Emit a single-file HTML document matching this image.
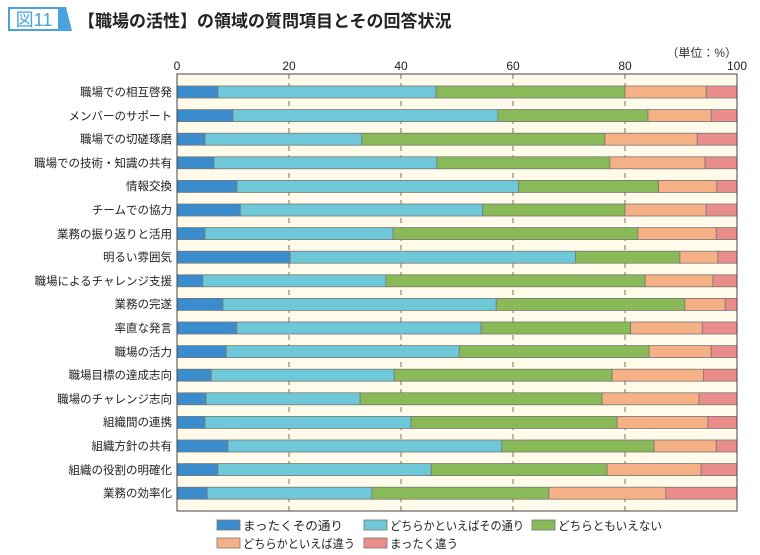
<!DOCTYPE html>
<html><head><meta charset="utf-8"><style>
body{margin:0;background:#fff;}
svg{display:block;font-family:"Liberation Sans","Noto Sans CJK JP",sans-serif;}
</style></head><body>
<svg id="s" width="760" height="555" viewBox="0 0 760 555">
<rect x="8" y="7" width="52" height="24" fill="#4aa3dc"/>
<polygon points="60,7 66,7 72,31 60,31" fill="#4aa3dc"/>
<rect x="10" y="9" width="48" height="20" fill="#fff"/>
<text x="34" y="26" font-size="18" fill="#4aa3dc" text-anchor="middle">図11</text>
<text x="78" y="27" font-size="17" font-weight="bold" fill="#222">【職場の活性】の領域の質問項目とその回答状況</text>
<text x="737" y="57" font-size="12" fill="#333" text-anchor="end">（単位：%）</text>
<rect x="177" y="74" width="560" height="437" fill="#fffbea"/>
<g id="grid"></g>
<g id="bars"></g>
<rect x="177" y="74" width="560" height="437" fill="none" stroke="#444" stroke-width="1"/>
<g font-size="12" fill="#222" text-anchor="middle">
<text x="177" y="70">0</text><text x="289" y="70">20</text><text x="401" y="70">40</text><text x="513" y="70">60</text><text x="625" y="70">80</text><text x="737" y="70">100</text>
</g>
<g font-size="11.5" fill="#222" text-anchor="end">
<text x="172" y="96">職場での相互啓発</text>
<text x="172" y="120">メンバーのサポート</text>
<text x="172" y="143">職場での切磋琢磨</text>
<text x="172" y="167">職場での技術・知識の共有</text>
<text x="172" y="190">情報交換</text>
<text x="172" y="214">チームでの協力</text>
<text x="172" y="238">業務の振り返りと活用</text>
<text x="172" y="261">明るい雰囲気</text>
<text x="172" y="285">職場によるチャレンジ支援</text>
<text x="172" y="308">業務の完遂</text>
<text x="172" y="332">率直な発言</text>
<text x="172" y="356">職場の活力</text>
<text x="172" y="379">職場目標の達成志向</text>
<text x="172" y="403">職場のチャレンジ志向</text>
<text x="172" y="426">組織間の連携</text>
<text x="172" y="450">組織方針の共有</text>
<text x="172" y="474">組織の役割の明確化</text>
<text x="172" y="497">業務の効率化</text>
</g>
<g stroke="#777" stroke-width="0.8">
<rect x="217" y="520" width="23" height="10" fill="#3a8ccc"/>
<rect x="364" y="520" width="23" height="10" fill="#6fc8d8"/>
<rect x="532" y="520" width="23" height="10" fill="#8aba58"/>
<rect x="217" y="538" width="23" height="10" fill="#f6b085"/>
<rect x="364" y="538" width="23" height="10" fill="#ea8c8a"/>
</g>
<g font-size="12" fill="#222">
<text x="243" y="530" textLength="100" lengthAdjust="spacingAndGlyphs">まったくその通り</text>
<text x="390" y="530" textLength="134" lengthAdjust="spacingAndGlyphs">どちらかといえばその通り</text>
<text x="558" y="530" textLength="104" lengthAdjust="spacingAndGlyphs">どちらともいえない</text>
<text x="243" y="548" textLength="112" lengthAdjust="spacingAndGlyphs">どちらかといえば違う</text>
<text x="390" y="548" textLength="68" lengthAdjust="spacingAndGlyphs">まったく違う</text>
</g>
</svg>
<script>
var d=[[7.3,46.25,80,94.5],[10,57.3,84.1,95.4],[5,33,76.4,92.9],[6.6,46.4,77.3,94.3],[10.7,61,86,96.4],[11.3,54.6,80,94.5],[5,38.6,82.3,96.3],[20.2,71.2,89.8,96.6],[4.6,37.3,83.6,95.7],[8.2,57,90.7,97.9],[10.7,54.3,81,93.8],[8.8,50.4,84.3,95.4],[6.1,38.8,77.7,94],[5.2,32.7,75.9,93.2],[5,41.8,78.6,94.8],[9.1,58,85.2,96.3],[7.3,45.4,76.8,93.6],[5.4,34.8,66.4,87.3]];
var c=["#3a8ccc","#6fc8d8","#8aba58","#f6b085","#ea8c8a"];
var ns="http://www.w3.org/2000/svg",g=document.getElementById("bars"),gr=document.getElementById("grid");
function el(t,a,p){var e=document.createElementNS(ns,t);for(var k in a)e.setAttribute(k,a[k]);p.appendChild(e);}
[20,40,60,80].forEach(function(v){var x=177+v*5.6;el("line",{x1:x,x2:x,y1:74,y2:511,stroke:"#8a6a4a","stroke-width":1,"stroke-dasharray":"5,4"},gr);});
d.forEach(function(r,i){var y=92+i*23.6-6;var b=[0].concat(r,[100]);
for(var j=0;j<5;j++){var x0=177+b[j]*5.6,x1=177+b[j+1]*5.6;el("rect",{x:x0,y:y,width:x1-x0,height:12,fill:c[j],stroke:"#777","stroke-width":0.8},g);}});
</script>
</body></html>
